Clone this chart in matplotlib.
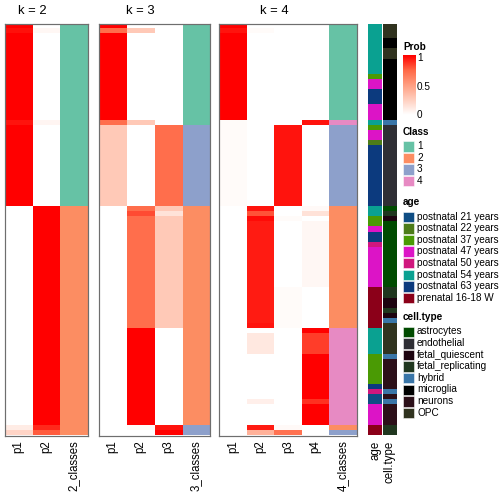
import numpy as np
import matplotlib
matplotlib.use("Agg")
import matplotlib.pyplot as plt
from matplotlib.colors import LinearSegmentedColormap, to_rgba
from matplotlib.patches import Rectangle

plt.rcParams['font.family'] = ['Liberation Sans', 'DejaVu Sans']

# values are stored as runs: (value, number of rows), top row first
def runs(vals, counts):
    return np.repeat(np.array(vals, dtype=object), counts)

# k = 2
k2_p1 = runs([1, 0.96, 1, 0.95, 1, 0, 0.1, 0.22], [1, 1, 17, 1, 16, 43, 1, 1])
k2_p2 = runs([0, 0.04, 0, 0.05, 0, 1, 0.9, 0.78], [1, 1, 17, 1, 16, 43, 1, 1])
k2_class = runs([1, 2], [36, 45])

# k = 3
k3_p1 = runs([1, 0.72, 1, 0.72, 0.28, 0], [1, 1, 17, 1, 16, 45])
k3_p2 = runs([0, 0.28, 0, 0.28, 0, 0.72, 0.82, 0.72, 1, 0.03, 0],
             [1, 1, 17, 1, 16, 1, 1, 22, 19, 1, 1])
k3_p3 = runs([0, 0.72, 0.28, 0.15, 0.28, 0, 0.95, 1], [20, 16, 1, 1, 22, 19, 1, 1])
k3_class = runs([1, 3, 2, 3], [20, 16, 43, 2])

# k = 4
k4_p1 = runs([1, 0.95, 1, 0.02, 0], [1, 1, 17, 17, 45])
k4_p2 = runs([0, 0.02, 0, 0.95, 0.8, 0.97, 0.93, 0.95, 0, 0.12, 0, 0.08, 0, 0.93, 0.4],
             [1, 1, 34, 1, 1, 1, 20, 1, 1, 4, 9, 1, 4, 1, 1])
k4_p3 = runs([0, 0.95, 0, 0.02, 0, 0.02, 0, 0.03, 0.7], [20, 16, 2, 1, 13, 8, 19, 1, 1])
k4_p4 = runs([0, 0.95, 0, 0.03, 0.15, 0, 0.04, 0, 1, 0.85, 1, 0.88, 1, 0],
             [19, 1, 16, 1, 1, 1, 13, 8, 1, 4, 9, 1, 4, 2])
k4_class = runs([1, 4, 3, 2, 4, 2, 3], [19, 1, 16, 24, 19, 1, 1])

age_levels = ["postnatal 21 years", "postnatal 22 years", "postnatal 37 years",
              "postnatal 47 years", "postnatal 50 years", "postnatal 54 years",
              "postnatal 63 years", "prenatal 16-18 W"]
age_colors = ["#0F4D84", "#4D7C19", "#4A9A04", "#DC14C6", "#D0177E", "#0AA191",
              "#0C3A7E", "#8B0019"]
age = runs(["postnatal 54 years", "postnatal 37 years", "postnatal 47 years",
            "postnatal 63 years", "postnatal 47 years", "postnatal 54 years",
            "postnatal 37 years", "postnatal 47 years", "postnatal 22 years",
            "postnatal 63 years", "postnatal 54 years", "postnatal 37 years",
            "postnatal 47 years", "postnatal 63 years", "postnatal 50 years",
            "postnatal 47 years", "prenatal 16-18 W", "postnatal 54 years",
            "postnatal 37 years", "postnatal 63 years", "postnatal 50 years",
            "postnatal 21 years", "postnatal 47 years", "prenatal 16-18 W"],
           [10, 1, 2, 3, 3, 1, 1, 2, 1, 12, 2, 2, 1, 2, 1, 8, 8, 5, 6, 1, 1, 2, 4, 2])

cell_levels = ["astrocytes", "endothelial", "fetal_quiescent", "fetal_replicating",
               "hybrid", "microglia", "neurons", "OPC"]
cell_colors = ["#004B00", "#2F2F35", "#1D0410", "#20371F", "#3A76A8", "#000000",
               "#2C1019", "#30331F"]
cell_type = runs(["OPC", "microglia", "OPC", "microglia", "hybrid", "endothelial",
                  "astrocytes", "fetal_replicating", "fetal_quiescent", "astrocytes",
                  "fetal_replicating", "fetal_quiescent", "fetal_replicating",
                  "fetal_quiescent", "hybrid", "OPC", "hybrid", "neurons", "hybrid",
                  "neurons", "hybrid", "neurons", "fetal_replicating"],
                 [3, 2, 2, 12, 1, 16, 1, 1, 1, 13, 2, 2, 1, 1, 1, 6, 1, 6, 1, 1, 1, 4, 2])

class_colors = {1: "#66C2A5", 2: "#FC8D62", 3: "#8DA0CB", 4: "#E78AC3"}
prob_cmap = LinearSegmentedColormap.from_list(
    "prob", [(0, "#FFFFFF"), (0.25, "#FFCFBF"), (0.5, "#FF9E81"),
             (0.75, "#FF6846"), (1, "#FF0000")])

W = H = 504
fig = plt.figure(figsize=(7, 7), dpi=72)


def px_axes(x0, y0, x1, y1):
    return fig.add_axes([x0 / W, 1 - y1 / H, (x1 - x0) / W, (y1 - y0) / H])


# overlay in pixel coordinates for titles and legends
lg = fig.add_axes([0, 0, 1, 1])
lg.set_xlim(0, W)
lg.set_ylim(H, 0)
lg.axis("off")

top, bottom = 24, 435.5
blocks = [
    ("k = 2", [k2_p1, k2_p2], k2_class, ["p1", "p2", "2_classes"], 5, 87.5),
    ("k = 3", [k3_p1, k3_p2, k3_p3], k3_class, ["p1", "p2", "p3", "3_classes"], 98.5, 210),
    ("k = 4", [k4_p1, k4_p2, k4_p3, k4_p4], k4_class,
     ["p1", "p2", "p3", "p4", "4_classes"], 219, 357),
]

for title, probs, cls, labels, x0, x1 in blocks:
    ax = px_axes(x0, top, x1, bottom)
    ncol = len(probs) + 1
    img = np.zeros((len(cls), ncol, 4))
    for j, p in enumerate(probs):
        img[:, j] = prob_cmap(p.astype(float))
    img[:, -1] = [to_rgba(class_colors[c]) for c in cls]
    ax.imshow(img, aspect="auto", interpolation="nearest",
              extent=(0, ncol, len(cls), 0))
    ax.set_xticks(np.arange(ncol) + 0.5)
    ax.set_xticklabels(labels, rotation=90, fontsize=11.5)
    ax.tick_params(length=0, pad=5)
    ax.set_yticks([])
    for s in ax.spines.values():
        s.set_color("#6E6E6E")
        s.set_linewidth(1.2)
    # title centred over the probability columns
    cw = (x1 - x0) / ncol
    lg.text(x0 + cw * len(probs) / 2, 11, title, fontsize=13, ha="center", va="center")

# annotation columns
for vals, levels, colors, lab, x0, x1 in [
        (age, age_levels, age_colors, "age", 368, 382),
        (cell_type, cell_levels, cell_colors, "cell.type", 383, 397)]:
    ax = px_axes(x0, top, x1, bottom)
    cmap_d = dict(zip(levels, colors))
    img = np.array([[to_rgba(cmap_d[v])] for v in vals])
    ax.imshow(img, aspect="auto", interpolation="nearest", extent=(0, 1, len(vals), 0))
    ax.set_xticks([0.5])
    ax.set_xticklabels([lab], rotation=90, fontsize=11.5)
    ax.tick_params(length=0, pad=5)
    ax.set_yticks([])
    for s in ax.spines.values():
        s.set_visible(False)

# legends
lx = 403
fs = 10

lg.text(lx, 47, "Prob", fontsize=fs, fontweight="bold", va="center")
cb = px_axes(lx, 55, lx + 12, 115)
cb.imshow(np.linspace(1, 0, 100)[:, None], cmap=prob_cmap, aspect="auto",
          extent=(0, 1, 0, 1), vmin=0, vmax=1)
cb.axis("off")
for v, t in [(1, "1"), (0.5, "0.5"), (0, "0")]:
    yy = 115 - v * 57
    lg.plot([lx + 1, lx + 3], [yy, yy], color="white", lw=0.8)
    lg.plot([lx + 9, lx + 11], [yy, yy], color="white", lw=0.8)
    lg.text(lx + 14, yy, t, fontsize=fs, va="center")


def legend_block(title, y_title, names, colors, y0):
    lg.text(lx, y_title, title, fontsize=fs, fontweight="bold", va="center")
    for i, (n, c) in enumerate(zip(names, colors)):
        yy = y0 + i * 11.6
        lg.add_patch(Rectangle((lx, yy - 5), 11, 10.5, facecolor=c, edgecolor="white",
                               lw=0.5))
        lg.text(lx + 14, yy, n, fontsize=fs, va="center")


legend_block("Class", 132, ["1", "2", "3", "4"], [class_colors[k] for k in range(1, 5)], 146)
legend_block("age", 202, age_levels, age_colors, 216.5)
legend_block("cell.type", 317, cell_levels, cell_colors, 331.5)

fig.savefig("out.png", dpi=72)
